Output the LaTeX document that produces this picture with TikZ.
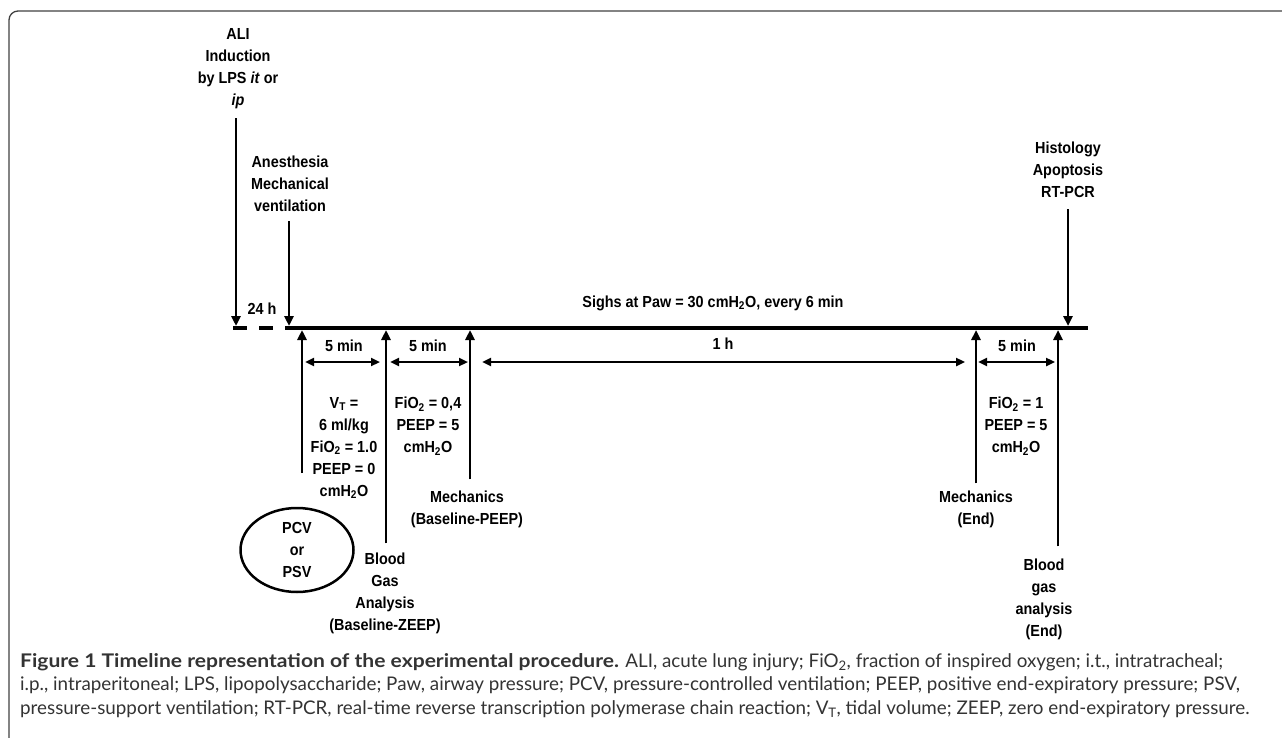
\documentclass[tikz,border=0pt]{standalone}
\usepackage{fontspec}
\setmainfont{Liberation Sans}[FakeStretch=0.9]
\newfontfamily\capfont{Lato}[BoldFeatures={FakeStretch=1.12}]
\usetikzlibrary{arrows.meta,positioning,shapes.geometric,calc}

\begin{document}
\begin{tikzpicture}[
  x=1pt, y=-1pt,
  lbl/.style={align=center, inner sep=0pt, font=\bfseries\fontsize{16}{22}\selectfont},
  arrow/.style={-{Triangle[length=10pt,width=9pt]}, line width=2.8pt},
  darrow/.style={{Triangle[length=9pt,width=8pt]}-{Triangle[length=9pt,width=8pt]}, line width=2.3pt},
  timeline/.style={line width=3.8pt},
  capt/.style={align=left, inner sep=0pt, anchor=north west, text=black!80, font=\capfont\fontsize{18.8}{23.5}\selectfont}
]
\useasboundingbox (0,0) rectangle (1282,738);
\draw[line width=1.3pt, black!75, rounded corners=9pt] (9,738) -- (9,11) -- (1282,11);

% time line
\coordinate (start) at (233,328);
\coordinate (t0) at (287,328);
\coordinate (tend) at (1088,328);
\draw[timeline, dash pattern=on 14pt off 12pt] (start) -- (t0);
\draw[timeline] (t0) -- (tend);

% events above the line
\node[lbl] (ali) at (238,69) {ALI\\Induction\\by LPS \textit{it} or\\\textit{ip}};
\node[lbl] (anest) at (290,184) {Anesthesia\\Mechanical\\ventilation};
\node[lbl] (histo) at (1068,170) {Histology\\Apoptosis\\RT-PCR};
\node[lbl] (h24) at (262,309) {24 h};
\node[lbl] (sighs) at (713,303) {Sighs at Paw = 30 cmH\textsubscript{2}O, every 6 min};

\coordinate (d1) at (236,326);
\coordinate (d2) at (289,326);
\coordinate (d3) at (1068,326);
\draw[arrow, shorten <=9pt] (d1 |- ali.south) -- (d1);
\draw[arrow, shorten <=9pt] (d2 |- anest.south) -- (d2);
\draw[arrow, shorten <=11pt] (d3 |- histo.south) -- (d3);

% events below the line
\coordinate (m1) at (302,330);
\coordinate (m2) at (386,330);
\coordinate (m3) at (470,330);
\coordinate (m4) at (976,330);
\coordinate (m5) at (1058,330);
\coordinate (a1) at (302,473);

\node[lbl] (vt) at (344,448) {V\textsubscript{T} =\\6 ml/kg\\FiO\textsubscript{2} = 1.0\\PEEP = 0\\cmH\textsubscript{2}O};
\node[lbl] (fio4) at (428,426) {FiO\textsubscript{2} = 0,4\\PEEP = 5\\cmH\textsubscript{2}O};
\node[lbl] (fio1) at (1016,426) {FiO\textsubscript{2} = 1\\PEEP = 5\\cmH\textsubscript{2}O};
\node[lbl, draw, ellipse, line width=2.5pt, minimum width=113pt, minimum height=84pt] (pcv) at (297,550) {PCV\\or\\PSV};
\node[lbl] (bgz) at (385,593) {Blood\\Gas\\Analysis\\(Baseline-ZEEP)};
\node[lbl] (mpeep) at (467,509) {Mechanics\\(Baseline-PEEP)};
\node[lbl] (mend) at (976,509) {Mechanics\\(End)};
\node[lbl] (bgend) at (1044,599) {Blood\\gas\\analysis\\(End)};

\draw[arrow] (a1) -- (m1);
\draw[arrow, shorten <=9pt] (m2 |- bgz.north) -- (m2);
\draw[arrow, shorten <=11pt] (m3 |- mpeep.north) -- (m3);
\draw[arrow, shorten <=7pt] (m4 |- mend.north) -- (m4);
\draw[arrow, shorten <=12pt] (m5 |- bgend.north) -- (m5);

% durations
\coordinate (dim) at (0,362);
\draw[darrow, shorten <=3pt, shorten >=6pt] (m1 |- dim) -- (m2 |- dim) node[lbl, midway, above=9pt] (dur1) {5 min};
\draw[darrow, shorten <=4pt, shorten >=2pt] (m2 |- dim) -- (m3 |- dim) node[lbl, midway, above=9pt] (dur2) {5 min};
\draw[darrow, shorten <=12pt, shorten >=11pt] (m3 |- dim) -- (m4 |- dim) node[lbl, midway, above=11pt] (dur3) {1 h};
\draw[darrow, shorten <=2pt, shorten >=3pt] (m4 |- dim) -- (m5 |- dim) node[lbl, midway, above=9pt] (dur4) {5 min};

% caption
\node[capt] (cap) at (20,653) {\textbf{Figure 1 Timeline representation of the experimental procedure.} ALI, acute lung injury; FiO\textsubscript{2}, fraction of inspired oxygen; i.t., intratracheal;\\
i.p., intraperitoneal; LPS, lipopolysaccharide; Paw, airway pressure; PCV, pressure-controlled ventilation; PEEP, positive end-expiratory pressure; PSV,\\
pressure-support ventilation; RT-PCR, real-time reverse transcription polymerase chain reaction; V\textsubscript{T}, tidal volume; ZEEP, zero end-expiratory pressure.};
\end{tikzpicture}
\end{document}
